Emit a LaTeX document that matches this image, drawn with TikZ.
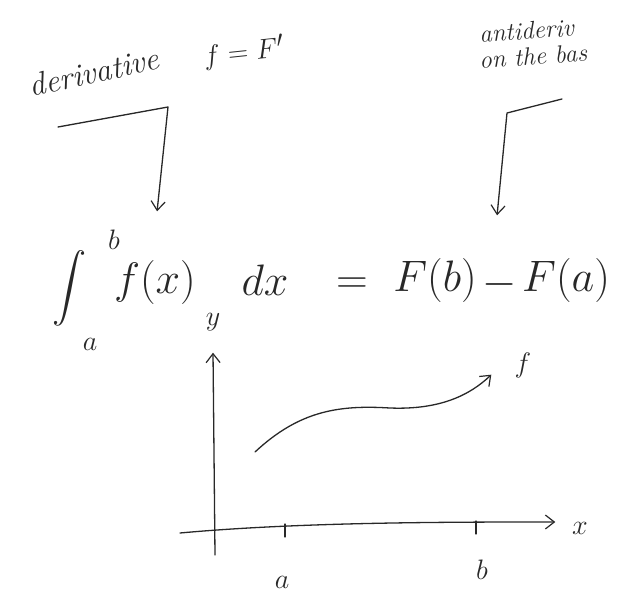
\documentclass[tikz,border=0pt]{standalone}
\usepackage{amsmath,amssymb}
\usetikzlibrary{arrows.meta,positioning}
\definecolor{penink}{RGB}{40,40,40}
\tikzset{
    % handwritten look
    pen/.style={line width=1.3pt, penink, line cap=round, line join=round},
    penarrow/.style={pen, -{Straight Barb[length=9pt,width=14pt,line width=1.2pt]}},
    note/.style={font=\fontsize{32}{36}\selectfont\itshape, text=penink, inner sep=1pt},
    smallnote/.style={font=\fontsize{25}{28}\selectfont\itshape, text=penink, inner sep=1pt},
    % math fonts stop at \Huge, so scale the nodes
    bigmath/.style={font=\Huge, scale=1.77, text=penink, inner sep=0pt},
    intmath/.style={font=\Huge, scale=1.37, text=penink, inner sep=0pt},
    smallmath/.style={font=\Huge, scale=1.13, text=penink, inner sep=0pt},
}
\begin{document}
\begin{tikzpicture}[x=1pt,y=-1pt]
  \useasboundingbox (0,0) rectangle (629,604);
  % the notes at the top
  \node[note,rotate=12] (deriv) at (94,72) {derivative};
  \node[smallmath,rotate=6] (fprime) at (244,52) {$f=F'$};
  \node[smallnote,rotate=4,anchor=west] (anti) at (478,34) {antideriv};
  \node[smallnote,rotate=4,anchor=west] (board) at (478,60) {on the bas};
  % bent arrows pointing to the formula
  \coordinate (l1) at (58,127);
  \coordinate (l2) at (168,107);
  \coordinate (r1) at (562,99);
  \coordinate (r2) at (507,113);
  \node[inner sep=0pt] (intnd) at (157,212) {};
  \node[inner sep=0pt] (antind) at (497,216) {};
  \draw[penarrow] (l1) -- (l2) -- (intnd);
  \draw[penarrow] (r1) -- (r2) -- (antind);
  % the formula
  \node[intmath] (int) at (70,288) {$\displaystyle\int$};
  \node[smallmath] (ub) at (114,240) {$b$};
  \node[smallmath] (lb) at (90,344) {$a$};
  \node[bigmath] (fx) at (155,282) {$f(x)$};
  \node[bigmath] (dx) at (265,280) {$dx$};
  \node[bigmath] (eq) at (352,286) {$=$};
  \node[bigmath] (Fb) at (435,280) {$F(b)$};
  \node[bigmath] (minus) at (500,284) {$-$};
  \node[bigmath] (Fa) at (566,280) {$F(a)$};
  % the graph
  \coordinate (xl) at (180,533);
  \coordinate (yb) at (215,555);
  \node[inner sep=0pt] (xend) at (556,522) {};
  \node[inner sep=0pt] (yend) at (213,352) {};
  \node[smallmath] (ylab) at (213,322) {$y$};
  \node[smallmath] (xlab) at (580,528) {$x$};
  \draw[penarrow] (xl) .. controls (300,522) and (450,522) .. (xend);
  \draw[penarrow] (yb) -- (yend);
  \coordinate (ta) at (285,524);
  \coordinate (tb) at (476,521);
  \draw[pen] (ta) -- ++(0,13);
  \draw[pen] (tb) -- ++(0,13);
  \node[smallmath] (alab) at (282,582) {$a$};
  \node[smallmath] (blab) at (482,570) {$b$};
  % the function
  \coordinate (c0) at (255,452);
  \node[inner sep=0pt] (cend) at (492,374) {};
  \draw[penarrow] (c0) .. controls (300,410) and (340,405) .. (390,408)
                       .. controls (440,410) and (470,395) .. (cend);
  \node[smallmath] (flab) at (523,365) {$f$};
\end{tikzpicture}
\end{document}
